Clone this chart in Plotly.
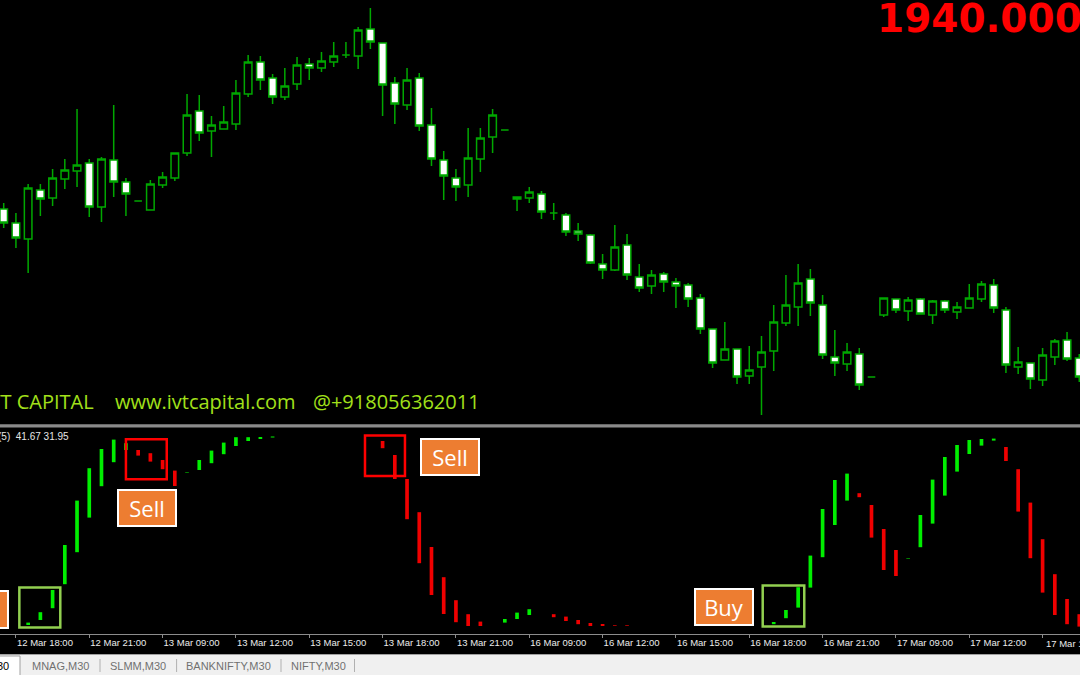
import plotly.graph_objects as go

# ---------------- data ----------------
# M30 candles (bar index 0..88), prices
bar_open = [2023.5, 2016.5, 2008.5, 2033, 2029, 2038.5, 2042.5, 2046.5, 2024.5, 2048,
            2037, 2027.5, 2023, 2035.5, 2039, 2051.5, 2072.5, 2062.5, 2063.5, 2066,
            2081, 2097, 2089, 2079.5, 2086, 2096, 2094, 2097, 2100.5, 2100,
            2113.5, 2106.5, 2086.5, 2075.5, 2089, 2065.5, 2048, 2039, 2035.5, 2048.5,
            2059.5, 2063, 2029.5, 2029, 2031, 2021.5, 2020.5, 2012.5, 2010.5, 1996,
            1993, 2005.5, 1989.5, 1985, 1991, 1987, 1985.5, 1979, 1963.5, 1948,
            1953.5, 1940, 1944.5, 1952.5, 1966.5, 1974.5, 1988.5, 1975.5, 1949.5, 1946,
            1951, 1939.5, 1970.5, 1978.5, 1972.5, 1978.5, 1970.5, 1977.5, 1972, 1974,
            1978.5, 1985.5, 1973, 1944.5, 1946.5, 1938, 1949.5, 1958, 1949]
bar_high = [2026.5, 2021.5, 2036, 2036, 2043.5, 2048.5, 2073.5, 2048.5, 2049.5, 2075.5,
            2039, 2027.5, 2038, 2042, 2051.5, 2081, 2080.5, 2070, 2075, 2088,
            2100.5, 2100, 2091, 2094, 2099.5, 2099, 2102, 2107, 2107, 2114.5,
            2124, 2106.5, 2089.5, 2094, 2091.5, 2074, 2052.5, 2043.5, 2064, 2064,
            2073.5, 2063, 2029.5, 2034.5, 2032.5, 2026.5, 2021.5, 2016.5, 2011, 2001,
            2015.5, 2011, 1996, 1993, 1992, 1989, 1986.5, 1981, 1963.5, 1967,
            1953.5, 1955, 1960, 1975.5, 1990.5, 1996, 1993.5, 1980.5, 1963, 1956.5,
            1954, 1939.5, 1979, 1978.5, 1979.5, 1979, 1978, 1978, 1977, 1986,
            1987.5, 1988.5, 1974.5, 1954.5, 1946.5, 1954, 1958.5, 1962, 1951]
bar_low = [2014, 2004, 1991.5, 2020, 2025, 2033.5, 2034.5, 2019.5, 2017, 2029.5,
           2020, 2027.5, 2023, 2034, 2037.5, 2050, 2057.5, 2049.5, 2063.5, 2063,
           2079.5, 2083, 2076, 2078, 2083, 2088, 2092, 2094.5, 2099, 2093.5,
           2103.5, 2070, 2066, 2073, 2062.5, 2045, 2028, 2027.5, 2029.5, 2042,
           2051.5, 2063, 2022.5, 2026.5, 2018.5, 2018, 2010, 2007.5, 1996, 1988.5,
           1992.5, 1988, 1982, 1981, 1982, 1974, 1974.5, 1961, 1944, 1948,
           1936, 1936, 1920.5, 1942.5, 1965, 1965, 1970, 1948.5, 1940, 1942.5,
           1933, 1939.5, 1969.5, 1971.5, 1967.5, 1971, 1966, 1971.5, 1968.5, 1974,
           1977, 1971.5, 1941.5, 1941, 1933.5, 1935, 1945.5, 1947.5, 1937]
bar_close = [2016.5, 2009, 2034, 2028.5, 2039, 2043, 2045.5, 2024.5, 2048.5, 2037,
             2031, 2027.5, 2036, 2039.5, 2051.5, 2070.5, 2061.5, 2065.5, 2067, 2081.5,
             2097, 2088, 2079.5, 2085, 2095.5, 2094, 2097.5, 2100, 2100.5, 2113,
             2107, 2085.5, 2076, 2088, 2065, 2048.5, 2040, 2034.5, 2049, 2059,
             2070.5, 2063, 2028.5, 2032, 2022, 2021.5, 2012, 2011, 1996.5, 1993,
             2004.5, 1990.5, 1984, 1990.5, 1987, 1985, 1978.5, 1963.5, 1946.5, 1953.5,
             1939.5, 1943, 1952, 1967, 1975.5, 1986.5, 1976.5, 1950.5, 1946.5, 1952,
             1935.5, 1939.5, 1979, 1973, 1978, 1971, 1977.5, 1973, 1974.5, 1979,
             1986, 1974, 1945.5, 1947, 1938.5, 1950.5, 1957.5, 1948.5, 1939.5]

# oscillator histogram: each bar spans [osc_low, osc_high]; osc_dir 'U' rising / 'D' falling
osc_low = [None, None, 2.9, 5.0, 10.9, 22.9, 38.9, 56.2, 71.9, 83.9,
           90.0, 87.2, 84.2, 80.4, 72.0, 78.5, 80.0, 83.4, 87.9, 92.0,
           94.5, 95.8, 96.2, None, None, None, None, None, None, None,
           None, 90.9, 75.5, 55.4, 33.4, 17.5, 8.0, 3.9, 2.0, 2.0,
           None, 3.7, 5.5, 7.5, None, 6.4, 4.5, 2.9, 2.0, 2.0,
           2.1, 2.1, None, None, None, None, None, None, None, None,
           None, None, None, 2.9, 5.9, 11.2, 21.2, 36.4, 52.5, 64.7,
           66.4, 46.2, 30.0, 27.0, 35.5, 41.4, 53.2, 67.2, 79.2, 88.0,
           92.2, 94.7, 84.5, 59.2, 35.9, 18.7, 7.5, 2.9, 1.7]
osc_high = [None, None, 3.7, 8.9, 20.0, 42.5, 64.7, 80.9, 90.5, 95.2,
            93.4, 90.0, 88.4, 85.0, 79.7, 78.9, 85.0, 89.7, 93.7, 96.4,
            96.4, 96.4, 96.6, None, None, None, None, None, None, None,
            None, 94.5, 87.5, 75.5, 58.9, 41.5, 26.4, 14.9, 7.9, 4.2,
            None, 5.5, 8.7, 10.4, None, 7.9, 6.7, 5.0, 3.5, 2.7,
            2.5, 2.5, None, None, None, None, None, None, None, None,
            None, None, None, 4.0, 10.0, 21.4, 37.2, 60.5, 75.0, 78.2,
            68.4, 62.5, 50.5, 40.0, 35.9, 57.5, 75.2, 86.5, 92.5, 95.0,
            95.5, 95.7, 91.5, 80.4, 63.7, 45.4, 27.9, 15.5, 7.9]
osc_dir = [None, None, 'U', 'U', 'U', 'U', 'U', 'U', 'U', 'U',
           'U', 'D', 'D', 'D', 'D', 'U', 'U', 'U', 'U', 'U',
           'U', 'U', 'U', None, None, None, None, None, None, None,
           None, 'D', 'D', 'D', 'D', 'D', 'D', 'D', 'D', 'D',
           None, 'U', 'U', 'U', None, 'D', 'D', 'D', 'D', 'D',
           'D', 'D', None, None, None, None, None, None, None, None,
           None, None, None, 'U', 'U', 'U', 'U', 'U', 'U', 'U',
           'D', 'D', 'D', 'D', 'U', 'U', 'U', 'U', 'U', 'U',
           'U', 'U', 'D', 'D', 'D', 'D', 'D', 'D', 'D']

tick_bars = [1, 7, 13, 19, 25, 31, 37, 43, 49, 55, 61, 67, 73, 79, 85]
tick_labels = ['12 Mar 18:00', '12 Mar 21:00', '13 Mar 09:00', '13 Mar 12:00', '13 Mar 15:00',
               '13 Mar 18:00', '13 Mar 21:00', '16 Mar 09:00', '16 Mar 12:00', '16 Mar 15:00',
               '16 Mar 18:00', '16 Mar 21:00', '17 Mar 09:00', '17 Mar 12:00', '17 Mar 15:00']

# signal markers: (label, bar position, oscillator level)
signal_labels = [('Sell', 11.7, 60.9), ('Sell', 36.5, 86.5), ('Buy', 58.9, 11.4)]
# highlighted zones: (colour key, first bar, last bar, low level, high level)
signal_boxes = [('buy', 1.28, 4.63, 1.2, 21.2), ('sell', 10.0, 13.34, 75.4, 95.4),
                ('sell', 29.56, 32.83, 77.0, 97.2), ('buy', 62.1, 65.5, 1.7, 22.2)]

tabs = ['MNAG,M30', 'SLMM,M30', 'BANKNIFTY,M30', 'NIFTY,M30']
last_price_text = '1940.0000'

# ---------------- figure ----------------
W, H = 1080, 675
def py(px):
    return 1 - px / H
def pxx(px):
    return px / W

GREEN = '#00A800'
idx = list(range(len(bar_open)))

fig = go.Figure()
fig.add_trace(go.Candlestick(
    x=idx, open=bar_open, high=bar_high, low=bar_low, close=bar_close,
    increasing=dict(line=dict(color=GREEN, width=1.5), fillcolor='black'),
    decreasing=dict(line=dict(color=GREEN, width=1.5), fillcolor='white'),
    whiskerwidth=0, xaxis='x', yaxis='y', showlegend=False, hoverinfo='skip'))

bx, bbase, bh, bcol = [], [], [], []
for i, (lo, hi, d) in enumerate(zip(osc_low, osc_high, osc_dir)):
    if lo is None:
        continue
    bx.append(i)
    bbase.append(lo)
    bh.append(hi - lo)
    small = (hi - lo) < 0.5
    if d == 'U':
        bcol.append('#007A00' if small else '#00EE00')
    else:
        bcol.append('#A00000' if small else '#F00000')
fig.add_trace(go.Bar(x=bx, y=bh, base=bbase, width=0.3, marker=dict(color=bcol, line=dict(width=0)),
                     xaxis='x', yaxis='y2', showlegend=False, hoverinfo='skip'))

shapes = []
# panel separator
shapes.append(dict(type='rect', xref='paper', yref='paper', x0=0, x1=1, y0=py(427.5), y1=py(424.3),
                   fillcolor='#8a8a8a', line=dict(width=0), layer='above'))
# bottom tab strip
shapes.append(dict(type='rect', xref='paper', yref='paper', x0=0, x1=1, y0=0, y1=py(655),
                   fillcolor='#f0f0f0', line=dict(width=0)))
shapes.append(dict(type='line', xref='paper', yref='paper', x0=0, x1=1, y0=py(654.5), y1=py(654.5),
                   line=dict(color='#a0a0a0', width=1)))
shapes.append(dict(type='rect', xref='paper', yref='paper', x0=pxx(-2), x1=pxx(20), y0=py(676), y1=py(656),
                   fillcolor='white', line=dict(color='#a0a0a0', width=1)))
for sx in [100, 176.6, 281, 354.5]:
    shapes.append(dict(type='line', xref='paper', yref='paper', x0=pxx(sx), x1=pxx(sx), y0=py(672), y1=py(659),
                       line=dict(color='#b0b0b0', width=1)))
# partially visible signal label at the left edge
shapes.append(dict(type='rect', xref='x', yref='y2', x0=-3, x1=0.35, y0=1.0, y1=19.5,
                   fillcolor='#ED7D31', line=dict(color='white', width=2), layer='above'))
box_col = {'buy': '#92D050', 'sell': '#FF0000'}
for key, a, b, lo, hi in signal_boxes:
    shapes.append(dict(type='rect', xref='x', yref='y2', x0=a, x1=b, y0=lo, y1=hi,
                       line=dict(color=box_col[key], width=2.5), fillcolor='rgba(0,0,0,0)', layer='above'))

annotations = []
for text, xb, lv in signal_labels:
    annotations.append(dict(x=xb, y=lv, xref='x', yref='y2', text=text, showarrow=False,
                            bgcolor='#ED7D31', bordercolor='white', borderwidth=2, borderpad=0,
                            width=56, height=34, font=dict(family='Open Sans', size=22, color='white')))
annotations.append(dict(x=pxx(875), y=py(19), xref='paper', yref='paper', xanchor='left', yanchor='middle',
                        text=last_price_text, showarrow=False,
                        font=dict(family='DejaVu Sans', size=39, color='#FF0000', weight='bold')))
wm = dict(family='Open Sans', size=20, color='#A2E01A')
annotations.append(dict(x=pxx(96), y=py(402), xref='paper', yref='paper', xanchor='right', yanchor='middle',
                        text='IVT CAPITAL', showarrow=False, font=wm))
annotations.append(dict(x=pxx(113), y=py(402), xref='paper', yref='paper', xanchor='left', yanchor='middle',
                        text='www.ivtcapital.com', showarrow=False, font=wm))
annotations.append(dict(x=pxx(311), y=py(402), xref='paper', yref='paper', xanchor='left', yanchor='middle',
                        text='@+918056362011', showarrow=False, font=wm))
annotations.append(dict(x=pxx(-4), y=py(436), xref='paper', yref='paper', xanchor='left', yanchor='middle',
                        text='(5)\u00a0\u00a041.67 31.95', showarrow=False,
                        font=dict(family='Liberation Sans', size=10, color='#e6e6e6')))
annotations.append(dict(x=pxx(11), y=py(666), xref='paper', yref='paper', xanchor='right', yanchor='middle',
                        text='30', showarrow=False, font=dict(family='Liberation Sans', size=11, color='#000000')))
tab_centers = [60, 138, 228, 318]
for t, c in zip(tabs, tab_centers):
    annotations.append(dict(x=pxx(c), y=py(666), xref='paper', yref='paper', xanchor='center', yanchor='middle',
                            text=t, showarrow=False, font=dict(family='Liberation Sans', size=11, color='#707070')))

tick_font = dict(family='Liberation Sans', size=9.5, color='#ececec')
# the last time label runs past the right edge of the window, as in the terminal
annotations.append(dict(x=tick_bars[-1], y=py(643), xref='x', yref='paper', xanchor='left', yanchor='middle',
                        xshift=1, text=tick_labels[-1], showarrow=False, font=tick_font))
axis_text = tick_labels[:-1] + ['']

fig.update_layout(
    width=W, height=H, margin=dict(l=0, r=0, t=0, b=0),
    paper_bgcolor='black', plot_bgcolor='black',
    boxgap=0.38, boxgroupgap=0, showlegend=False,
    xaxis=dict(range=[-0.303, 88.06], anchor='y2', showgrid=False, zeroline=False,
               showline=True, linecolor='#8c8c8c', linewidth=1,
               ticks='outside', ticklen=3, tickcolor='#8c8c8c',
               tickvals=tick_bars, ticktext=axis_text, ticklabelposition='outside right',
               tickfont=tick_font, automargin=False,
               rangeslider=dict(visible=False), fixedrange=True),
    yaxis=dict(domain=[py(424), 1], range=[1916, 2128], visible=False, showgrid=False, zeroline=False),
    yaxis2=dict(domain=[py(634), py(428)], range=[-2, 101], visible=False, showgrid=False, zeroline=False),
    shapes=shapes, annotations=annotations,
)

fig.write_html('out.html', config={'displayModeBar': False},
               post_script="document.body.style.margin='0';document.body.style.overflow='hidden';")
